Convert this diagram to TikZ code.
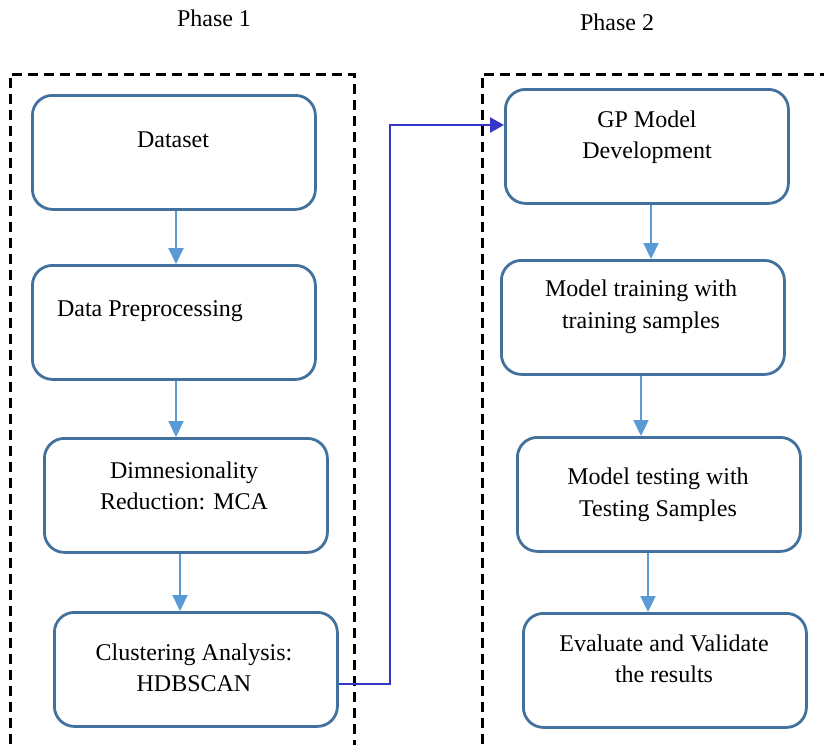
\documentclass[tikz,border=0pt]{standalone}
\usepackage{fontspec}
\setmainfont{Liberation Serif}
\usetikzlibrary{arrows.meta}
\definecolor{boxblue}{HTML}{41719C}
\definecolor{arrblue}{HTML}{5B9BD5}
\definecolor{linkblue}{HTML}{3535C8}
\begin{document}
\begin{tikzpicture}[x=1pt,y=-1pt,
  procbox/.style={draw=boxblue,line width=2.8pt,rounded corners=20pt,minimum width=283pt,minimum height=114pt,anchor=north west,inner sep=0pt},
  lbl/.style={font=\fontsize{24}{31.5}\selectfont,align=center,inner sep=0pt,text=black},
  flowarrow/.style={draw=arrblue,line width=2.2pt,-{Triangle[width=15pt,length=16pt]}},
  linkarrow/.style={draw=linkblue,line width=2.6pt,-{Triangle[width=15pt,length=14pt]}},
  phasebox/.style={draw=black,line width=3pt,dash pattern=on 10pt off 6pt}]
\useasboundingbox (0,0) rectangle (824,744);
% phase frames
\draw[phasebox] (10,760) -- (10,74) -- (354,74) -- (354,760);
\draw[phasebox] (482,760) -- (482,74) -- (840,74);
% phase titles
\node[lbl] (ph1) at (214,18) {Phase 1};
\node[lbl] (ph2) at (617,22) {Phase 2};
% boxes phase 1
\node[procbox] (b1) at (31,94) {};
\node[procbox] (b2) at (31,264) {};
\node[procbox] (b3) at (43,437) {};
\node[procbox] (b4) at (53,611) {};
% boxes phase 2
\node[procbox] (b5) at (504,88) {};
\node[procbox] (b6) at (500,259) {};
\node[procbox] (b7) at (516,436) {};
\node[procbox] (b8) at (522,612) {};
% labels
\node[lbl] (t1) at (173,140) {Dataset};
\node[lbl] (t2) at (150,311) {Data Preprocessing};
\node[lbl] (t3) at (184,486) {Dimnesionality\\Reduction: MCA};
\node[lbl] (t4) at (194,668) {Clustering Analysis:\\HDBSCAN};
\node[lbl] (t5) at (647,137) {GP Model\\Development};
\node[lbl] (t6) at (641,307) {Model training with\\training samples};
\node[lbl] (t7) at (658,495) {Model testing with\\Testing Samples};
\node[lbl] (t8) at (664,659) {Evaluate and Validate\\the results};
% arrows
\draw[flowarrow] (b1.south -| 176,0) -- (b2.north -| 176,0);
\draw[flowarrow] (b2.south -| 176,0) -- (b3.north -| 176,0);
\draw[flowarrow] (b3.south -| 180,0) -- (b4.north -| 180,0);
\draw[flowarrow] (b5.south -| 651,0) -- (b6.north -| 651,0);
\draw[flowarrow] (b6.south -| 641,0) -- (b7.north -| 641,0);
\draw[flowarrow] (b7.south -| 648,0) -- (b8.north -| 648,0);
% link
\coordinate (c1) at (390,684);
\coordinate (c2) at (390,125);
\draw[linkarrow] (b4.east |- c1) -- (c1) -- (c2) -- (b5.west |- c2);
\end{tikzpicture}
\end{document}
